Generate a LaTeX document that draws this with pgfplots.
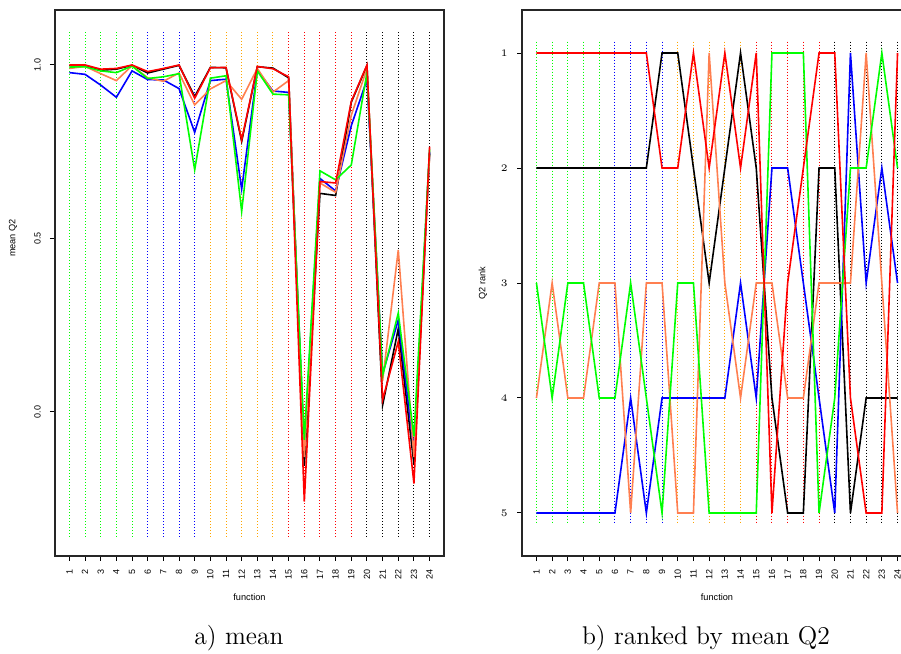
\documentclass[border=0pt]{standalone}
\usepackage{pgfplots}
\usepackage{pgfplotstable}
\pgfplotsset{compat=1.18}
\usepackage{fontspec}
\newfontfamily\rfont{Liberation Sans}
\definecolor{rgreen}{RGB}{0,255,0}
\definecolor{rcoral}{RGB}{255,127,80}
\definecolor{rorange}{RGB}{255,165,0}

\pgfplotstableread{
k black red blue green coral
1 0.998 1.000 0.978 0.994 0.990
2 0.999 1.000 0.973 0.995 0.996
3 0.985 0.988 0.942 0.983 0.975
4 0.988 0.990 0.907 0.978 0.955
5 0.999 1.000 0.983 0.997 0.998
6 0.977 0.981 0.958 0.961 0.963
7 0.988 0.990 0.957 0.966 0.953
8 0.999 1.000 0.932 0.975 0.977
9 0.909 0.904 0.806 0.698 0.885
10 0.993 0.992 0.955 0.962 0.931
11 0.992 0.993 0.959 0.969 0.955
12 0.780 0.784 0.642 0.578 0.901
13 0.995 0.996 0.985 0.983 0.990
14 0.991 0.989 0.925 0.916 0.922
15 0.963 0.966 0.921 0.914 0.955
16 -0.155 -0.258 -0.100 -0.080 -0.130
17 0.630 0.664 0.673 0.695 0.660
18 0.624 0.660 0.637 0.669 0.633
19 0.893 0.895 0.825 0.712 0.855
20 0.998 1.000 0.958 0.978 0.990
21 0.020 0.035 0.110 0.105 0.090
22 0.240 0.203 0.265 0.285 0.467
23 -0.150 -0.206 -0.110 -0.070 -0.130
24 0.745 0.765 0.750 0.757 0.740
}\meantab

\pgfplotstableread{
k black red blue green coral
1 2 1 5 3 4
2 2 1 5 4 3
3 2 1 5 3 4
4 2 1 5 3 4
5 2 1 5 4 3
6 2 1 5 4 3
7 2 1 4 3 5
8 2 1 5 4 3
9 1 2 4 5 3
10 1 2 4 3 5
11 2 1 4 3 5
12 3 2 4 5 1
13 2 1 4 5 3
14 1 2 3 5 4
15 2 1 4 5 3
16 4 5 2 1 3
17 5 3 2 1 4
18 5 2 3 1 4
19 2 1 4 5 3
20 2 1 5 4 3
21 5 4 1 2 3
22 4 5 3 2 1
23 4 5 2 1 3
24 4 1 3 2 5
}\ranktab

\pgfplotsset{
  rbase/.style={
    scale only axis, anchor=south west,
    height=273pt,
    xmin=0.08, xmax=24.92,
    axis line style={line width=0.6pt, black!85},
    tick pos=left, tick align=outside,
    major tick length=2.5pt,
    tick style={line width=0.5pt, black},
    no markers,
    xtick={1,...,24},
    xticklabels={1,2,3,4,5,6,7,8,9,10,11,12,13,14,15,16,17,18,19,20,21,22,23,24},
    xticklabel style={font=\rfont\fontsize{4.5}{5}\selectfont, rotate=90, anchor=east, inner sep=0pt, xshift=-4pt},
  },
  vline/.style={line width=0.5pt, dash pattern=on 0.5pt off 1pt},
  sline/.style={line width=0.8pt},
}

\begin{document}
\begin{tikzpicture}
% ---------- a) mean ----------
\begin{axis}[rbase, at={(27.5pt,49pt)}, width=194.5pt,
  ymin=-0.415, ymax=1.1585,
  ytick={0,0.5,1}, yticklabels={0.0,0.5,1.0},
  yticklabel style={font=\rfont\fontsize{4.5}{5}\selectfont, rotate=90, anchor=south, inner sep=0pt, yshift=4.5pt},
]
\pgfplotsinvokeforeach{1,2,3,4,5}{\addplot[vline, rgreen] coordinates {(#1,-0.36) (#1,1.095)};}
\pgfplotsinvokeforeach{6,7,8,9}{\addplot[vline, blue] coordinates {(#1,-0.36) (#1,1.095)};}
\pgfplotsinvokeforeach{10,11,12,13,14}{\addplot[vline, rorange] coordinates {(#1,-0.36) (#1,1.095)};}
\pgfplotsinvokeforeach{15,16,17,18,19}{\addplot[vline, red] coordinates {(#1,-0.36) (#1,1.095)};}
\pgfplotsinvokeforeach{20,21,22,23,24}{\addplot[vline, black] coordinates {(#1,-0.36) (#1,1.095)};}
\addplot[sline, black] table[x=k, y=black] {\meantab};
\addplot[sline, blue] table[x=k, y=blue] {\meantab};
\addplot[sline, rcoral] table[x=k, y=coral] {\meantab};
\addplot[sline, rgreen] table[x=k, y=green] {\meantab};
\addplot[sline, red] table[x=k, y=red] {\meantab};
\end{axis}
% ---------- b) ranked ----------
\begin{axis}[rbase, at={(261pt,49pt)}, width=195pt,
  y dir=reverse, ymin=0.626, ymax=5.374,
  ytick={1,2,3,4,5},
  yticklabel style={font=\rfont\fontsize{4.5}{5}\selectfont, anchor=east, inner sep=0pt, xshift=-4.5pt},
]
\pgfplotsinvokeforeach{1,2,3,4,5}{\addplot[vline, rgreen] coordinates {(#1,0.9) (#1,5.1)};}
\pgfplotsinvokeforeach{6,7,8,9}{\addplot[vline, blue] coordinates {(#1,0.9) (#1,5.1)};}
\pgfplotsinvokeforeach{10,11,12,13,14}{\addplot[vline, rorange] coordinates {(#1,0.9) (#1,5.1)};}
\pgfplotsinvokeforeach{15,16,17,18,19}{\addplot[vline, red] coordinates {(#1,0.9) (#1,5.1)};}
\pgfplotsinvokeforeach{20,21,22,23,24}{\addplot[vline, black] coordinates {(#1,0.9) (#1,5.1)};}
\addplot[sline, black] table[x=k, y=black] {\ranktab};
\addplot[sline, blue] table[x=k, y=blue] {\ranktab};
\addplot[sline, rcoral] table[x=k, y=coral] {\ranktab};
\addplot[sline, rgreen] table[x=k, y=green] {\ranktab};
\addplot[sline, red] table[x=k, y=red] {\ranktab};
\end{axis}
% ---------- labels ----------
\node[font=\rfont\fontsize{4.6}{5}\selectfont, rotate=90] at (6.5pt,208pt) {mean Q2};
\node[font=\rfont\fontsize{4.6}{5}\selectfont, rotate=90] at (241.5pt,185.5pt) {Q2 rank};
\node[font=\rfont\fontsize{4.6}{5}\selectfont] at (124.75pt,28.5pt) {function};
\node[font=\rfont\fontsize{4.6}{5}\selectfont] at (358.5pt,28.5pt) {function};
\node[font=\fontsize{12.8}{15}\selectfont, anchor=base] at (119.5pt,4.5pt) {a) mean};
\node[font=\fontsize{12.8}{15}\selectfont, anchor=base] at (353pt,4.5pt) {b) ranked by mean Q2};
\pgfresetboundingbox
\path[use as bounding box] (0,0) rectangle (450.5pt,327pt);
\end{tikzpicture}
\end{document}
